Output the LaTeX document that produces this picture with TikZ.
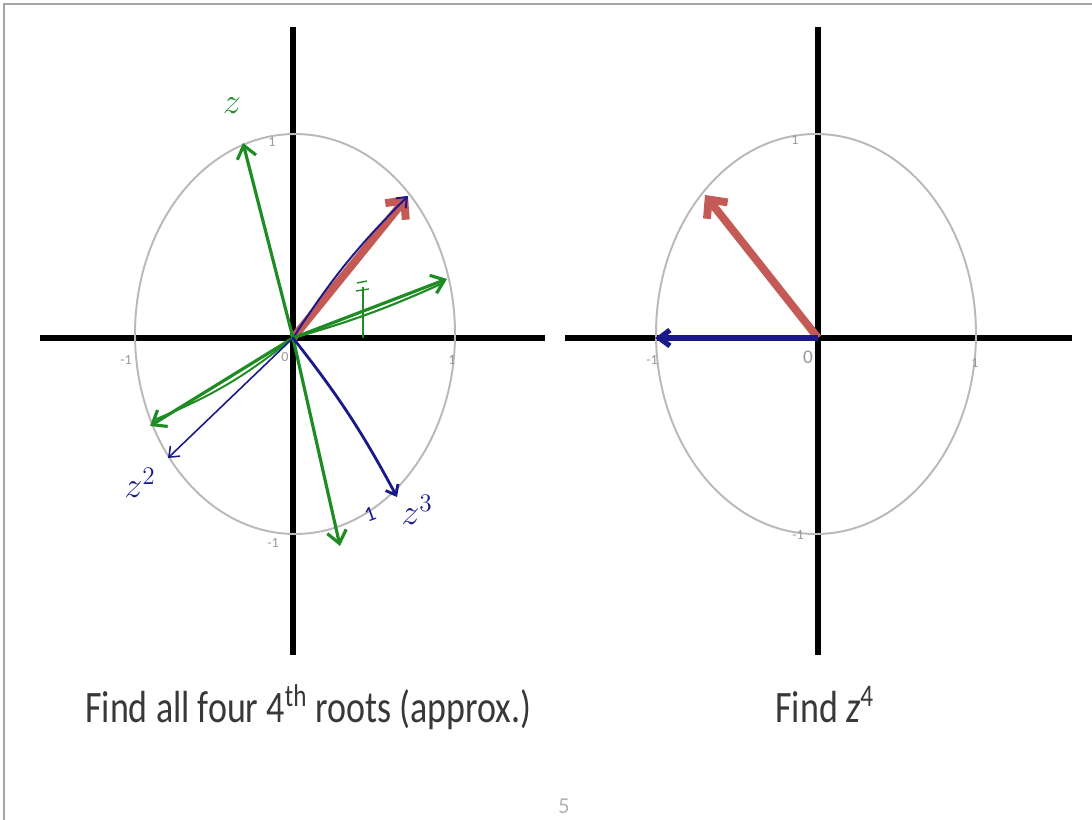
\documentclass[tikz,border=0pt]{standalone}
\usepackage{fontspec}
\setmainfont{Carlito}
\usetikzlibrary{
	calc,
	arrows.meta,
	positioning
}
\definecolor{inkgreen}{RGB}{30,140,35}
\definecolor{inkblue}{RGB}{25,25,140}
\definecolor{vecred}{RGB}{196,90,86}

\begin{document}
\begin{tikzpicture}[x=0.02cm, y=-0.02cm,
				axis/.style={line width=3pt},
				unit/.style={gray!55, line width=1.1pt},
				tick/.style={gray!80, font=\fontsize{8}{8}\selectfont, inner sep=1pt},
				vecz/.style={vecred, line width=4.5pt, -{Straight Barb[length=8pt, width=15pt]}},
				greenpen/.style={inkgreen, line width=1.8pt, line cap=round, -{Straight Barb[length=7pt, width=11pt]}},
				bluepen/.style={inkblue, line width=0.9pt, line cap=round, -{Straight Barb[length=5pt, width=8pt]}},
				hand/.style={font=\fontsize{20}{20}\selectfont, inner sep=0pt},
				caption/.style={anchor=base west, font=\fontsize{25.6}{28}\selectfont, text=black!78, inner sep=0pt}
			]
				\useasboundingbox (0,0) rectangle (1092,820);
				% frame
				\draw[gray!70, line width=1pt] (4,820) -- (4,4) -- (1092,4);
				% left plane
				\coordinate (O1) at (293,338);
				\coordinate (left-top)    at (293,27);
				\coordinate (left-bottom) at (293,655);
				\coordinate (left-west)   at (40,338);
				\coordinate (left-east)   at (545,338);
				\draw[axis] (left-top) -- (left-bottom);
				\draw[axis] (left-west) -- (left-east);
				\draw[unit] (295,334) ellipse [x radius=160, y radius=200];
				\node[tick] (l-one)   at (272,142) {1};
				\node[tick] (l-mone)  at (273,543) {-1};
				\node[tick] (l-west)  at (126,360) {-1};
				\node[tick] (l-zero)  at (285,357) {0};
				\node[tick] (l-east)  at (452,360) {1};
				% right plane
				\coordinate (O2) at (818,338);
				\coordinate (right-top)    at (818,27);
				\coordinate (right-bottom) at (818,655);
				\coordinate (right-west)   at (565,338);
				\coordinate (right-east)   at (1072,338);
				\draw[axis] (right-top) -- (right-bottom);
				\draw[axis] (right-west) -- (right-east);
				\draw[unit] (816,334) ellipse [x radius=160, y radius=200];
				\node[tick] (r-one)   at (795,140) {1};
				\node[tick] (r-mone)  at (798,535) {-1};
				\node[tick] (r-west)  at (652,360) {-1};
				\node[tick, font=\fontsize{11}{11}\selectfont] (r-zero) at (808,357) {0};
				\node[tick] (r-east)  at (975,363) {1};
				% tips
				\coordinate (w-tip)    at (408,196);
				\coordinate (r1-tip)   at (447,279);
				\coordinate (z-tip)    at (243,143);
				\coordinate (r2-tip)   at (150,426);
				\coordinate (z2-tip)   at (168,458);
				\coordinate (r3-tip)   at (340,546);
				\coordinate (z3-tip)   at (397,497);
				\coordinate (z4-tip)   at (655,338);
				\coordinate (zr-tip)   at (705,195);
				% vectors, left
				\draw[vecz] (O1) -- (w-tip);
				\draw[bluepen, line width=1.1pt] (O1) to[bend left=6] (w-tip);
				\draw[greenpen] (O1) -- (r1-tip);
				\draw[inkgreen, line width=1.2pt] (O1) to[bend right=4] ($(r1-tip)+(-6,5)$);
				\draw[greenpen] (O1) -- (z-tip);
				\draw[greenpen] (O1) -- (r2-tip);
				\draw[inkgreen, line width=1.1pt] (O1) to[bend left=8] ($(r2-tip)+(4,-6)$);
				\draw[bluepen] (O1) -- (z2-tip);
				\draw[greenpen] (O1) -- (r3-tip);
				\draw[bluepen, line width=1.6pt] (O1) to[bend left=5] (z3-tip);
				% angle mark
				\draw[inkgreen, line width=0.8pt] (363,287) -- (363,338);
				\draw[inkgreen, line width=0.8pt] (357,283) -- (367,281) (356,291) -- (369,289);
				% labels, left
				\node[hand, text=inkgreen] (z)  at (232,106) {$z$};
				\node[hand, text=inkblue]  (z2) at (140,483) {$z^2$};
				\node[hand, text=inkblue]  (z3) at (417,510) {$z^3$};
				\node[hand, text=inkblue, font=\fontsize{12}{12}\selectfont, rotate=20] (one) at (370,514) {1};
				% vectors, right
				\draw[vecz] (O2) -- (zr-tip);
				\draw[inkblue, line width=3pt, -{Straight Barb[length=6pt, width=9pt]}] (O2) -- (z4-tip);
				% captions
				\node[caption] (cap-left)  at (85,722) {\scalebox{0.8}[1]{Find all four 4\textsuperscript{th} roots (approx.)}};
				\node[caption] (cap-right) at (775,722) {\scalebox{0.8}[1]{Find \textit{z}\textsuperscript{4}}};
				\node[gray!60, font=\fontsize{13}{13}\selectfont] (page) at (564,806) {5};
			\end{tikzpicture}
\end{document}
